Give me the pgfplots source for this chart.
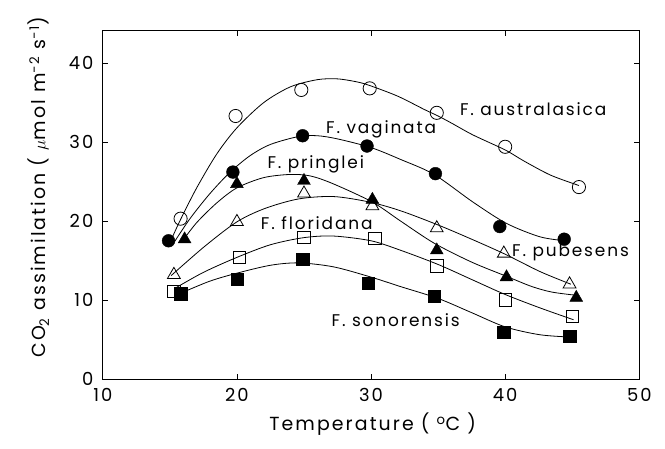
\documentclass[border=0pt]{standalone}
\usepackage{fontspec}
\setmainfont{Poppins}
\newfontfamily\spaced[LetterSpace=11]{Poppins}
\usepackage{pgfplots}
\pgfplotsset{compat=1.18}

\begin{document}
\begin{tikzpicture}
\begin{axis}[
  width=536.5bp, height=348.3bp, scale only axis,
  xmin=10, xmax=50, ymin=0, ymax=44.1,
  xtick={10,20,...,50}, ytick={0,10,...,40},
  minor tick num=0,
  tick align=inside, major tick length=5bp,
  tick style={black, line width=0.6bp},
  axis line style={line width=0.8bp},
  /pgf/number format/assume math mode=true,
  ticklabel style={font=\spaced\fontsize{18}{21}\selectfont},
  xticklabel style={yshift=-6bp},
  yticklabel style={xshift=-6bp},
  label style={font=\spaced\fontsize{19}{22}\selectfont},
  xlabel={Temperature ( \textsuperscript{o}C )},
  ylabel={CO\textsubscript{2} assimilation ( $\mu$mol m\textsuperscript{−2} s\textsuperscript{−1})},
  xlabel style={at={(axis description cs:0.503,-0.129)}, anchor=center},
  ylabel style={at={(axis description cs:-0.12,0.55)}, anchor=center},
  clip=false,
  every axis plot/.append style={black},
]
% fitted response curves
\addplot[smooth, line width=0.8bp] coordinates {(15.2,18.0)(15.8,20.2)(17,24.2)(18.5,28.5)(20,31.8)(22,35.0)(24,37.0)(26,37.9)(27.5,38.0)(29,37.6)(30,37.1)(32,35.8)(34,34.1)(35,33.3)(36,32.4)(37.6,30.9)(40,29.0)(41.4,27.6)(43.4,25.8)(45.5,24.5)};
\addplot[smooth, line width=0.8bp] coordinates {(15.2,17.0)(16.5,20.3)(18,23.5)(19.5,26.2)(21,28.3)(22.5,29.7)(24.6,30.7)(26,30.8)(27.5,30.4)(30,29.3)(32.2,27.8)(34.7,25.9)(37.6,22.4)(40.1,19.7)(42.6,18.0)(44.5,17.5)};
\addplot[smooth, line width=0.8bp] coordinates {(16,17.6)(17,19.8)(18.5,22.3)(20,24.2)(22,25.5)(24,25.9)(25.5,25.7)(27.2,24.7)(30.1,22.4)(32.2,20.0)(34.7,17.2)(37.5,14.8)(40.1,13.0)(42,11.7)(43.5,11.0)(45.3,10.6)};
\addplot[smooth, line width=0.8bp] coordinates {(15.1,13.1)(17.6,16.8)(20,19.9)(22.1,21.6)(24.6,22.8)(27.2,23.1)(29.9,22.4)(32.2,21.3)(35,19.5)(37.5,17.7)(40,15.8)(42.6,13.6)(44.9,12.0)};
\addplot[smooth, line width=0.8bp] coordinates {(15.4,11.5)(17.5,13.5)(20,15.4)(22.5,17.0)(25,17.9)(27.2,18.1)(30,17.5)(32.2,16.3)(35,14.5)(37.5,12.6)(40,10.7)(42.6,9.0)(45.1,7.5)};
\addplot[smooth, line width=0.8bp] coordinates {(16,11.0)(18,12.4)(20,13.4)(22.5,14.4)(24.6,14.7)(27.2,14.2)(30,12.9)(32.2,11.7)(35,10.2)(37.5,8.4)(40,6.6)(42.6,5.6)(45,5.3)};

% measured rates
\addplot[only marks, mark=o, mark size=6.6bp, mark options={line width=0.8bp}] coordinates {(15.8,20.3)(19.9,33.3)(24.8,36.6)(29.9,36.8)(34.9,33.7)(40.0,29.4)(45.5,24.3)};
\addplot[only marks, mark=*, mark size=6.4bp] coordinates {(14.9,17.5)(19.7,26.2)(24.9,30.8)(29.7,29.5)(34.8,26.0)(39.6,19.3)(44.4,17.7)};
\addplot[only marks, mark=triangle*, mark size=7.4bp] coordinates {(16.1,17.7)(20.0,24.7)(25.0,25.1)(30.1,22.7)(34.9,16.3)(40.1,12.9)(45.3,10.3)};
\addplot[only marks, mark=triangle, mark size=7.4bp, mark options={line width=0.8bp}] coordinates {(15.3,13.2)(20.0,19.9)(25.0,23.5)(30.1,21.9)(34.9,19.1)(39.9,15.9)(44.8,12.0)};
\addplot[only marks, mark=square, mark size=6.2bp, mark options={line width=0.8bp}] coordinates {(15.3,11.1)(20.2,15.4)(25.0,17.9)(30.3,17.8)(34.9,14.3)(40.0,10.0)(45.0,7.9)};
\addplot[only marks, mark=square*, mark size=6.2bp] coordinates {(15.8,10.8)(20.0,12.6)(24.9,15.2)(29.8,12.1)(34.7,10.5)(39.9,5.9)(44.8,5.4)};

% species names
\begin{scope}[every node/.style={anchor=base west, inner sep=0pt, font=\spaced\fontsize{17}{20}\selectfont}]
\node at (axis cs:36.62,33.42) {F. australasica};
\node at (axis cs:26.64,31.10) {F. vaginata};
\node at (axis cs:22.27,26.67) {F. pringlei};
\node at (axis cs:21.78,18.95) {F. floridana};
\node at (axis cs:40.51,15.48) {F. pubesens};
\node at (axis cs:27.05,6.62) {F. sonorensis};
\end{scope}
\end{axis}
\path ([xshift=-102.8bp,yshift=-70bp]current axis.south west) rectangle ([xshift=25.7bp,yshift=30.7bp]current axis.north east);
\end{tikzpicture}
\end{document}
